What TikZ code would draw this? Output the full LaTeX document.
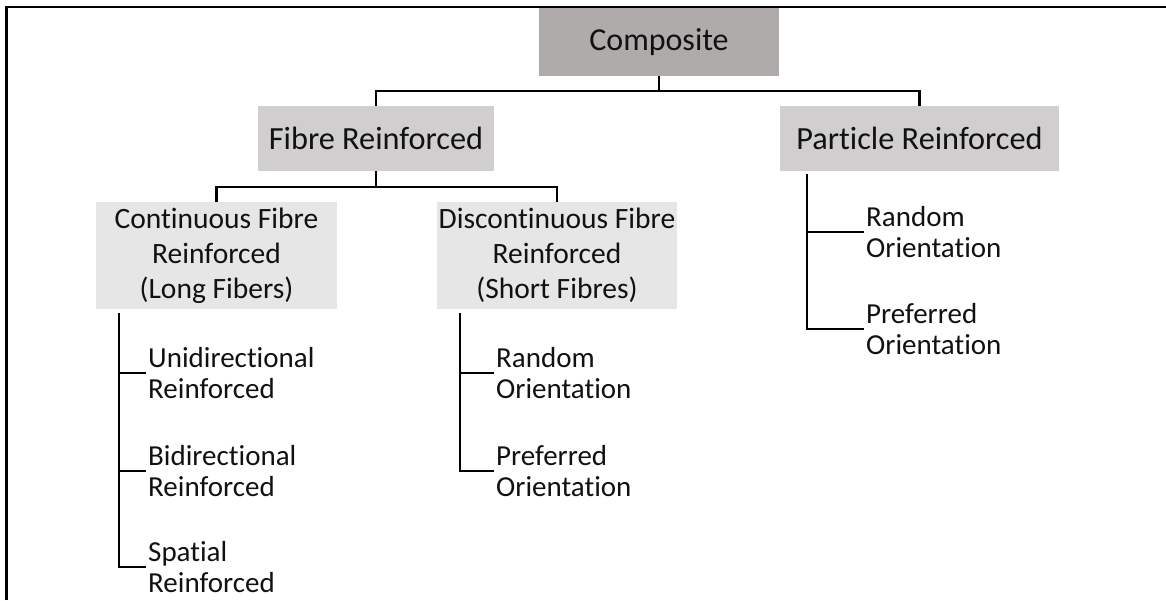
\documentclass[tikz,border=0pt]{standalone}
\usepackage{fontspec}
\setmainfont{Carlito}[Ligatures={NoCommon}]
\usetikzlibrary{calc}
\definecolor{boxdark}{HTML}{AFABAB}
\definecolor{boxmid}{HTML}{D0CECE}
\definecolor{boxlight}{HTML}{E7E6E6}
\definecolor{ink}{HTML}{111111}
\begin{document}
\begin{tikzpicture}[x=1pt,y=-1pt,
  box/.style={inner sep=0pt, align=center, text=ink},
  topbox/.style={box, fill=boxdark, minimum width=240pt, minimum height=68pt,
    font=\fontsize{32}{37}\selectfont},
  midbox/.style={box, fill=boxmid, minimum height=65pt,
    font=\fontsize{32.3}{37}\selectfont},
  lowbox/.style={box, fill=boxlight, minimum height=107pt,
    font=\fontsize{29.5}{35}\selectfont},
  leaf/.style={anchor=west, inner xsep=2pt, inner ysep=0pt, align=left,
    text=ink, font=\fontsize{29}{31}\selectfont},
  link/.style={draw=black, line width=2.4pt},
  frame/.style={draw=black, line width=2.4pt}]
\useasboundingbox (0,0) rectangle (1166,600);

% outer frame (left and top edges)
\coordinate (fbl) at (6.3,600);
\coordinate (ftl) at (6.3,7);
\coordinate (ftr) at (1166,7);
\draw[frame] (fbl) -- (ftl) -- (ftr);

% category boxes
\node[topbox] (comp) at (659,42) {Composite};
\node[midbox, minimum width=236pt] (fibre) at (376,138.5) {Fibre Reinforced};
\node[midbox, minimum width=279pt] (part) at (919.5,138.5) {Particle Reinforced};
\node[lowbox, minimum width=241pt] (cont) at (216.5,255.5)
  {Continuous Fibre\\Reinforced\\(Long Fibers)};
\node[lowbox, minimum width=240pt] (disc) at (557,255.5)
  {Discontinuous Fibre\\Reinforced\\(Short Fibres)};

% first level connectors
\coordinate (hub) at ($(comp.south)+(0,14.5)$);
\draw[link] (comp.south) -- (hub);
\draw[link] (fibre.north) |- (hub) -| (part.north);

% fibre connectors
\coordinate (fhub) at ($(fibre.south)+(0,16)$);
\draw[link] (fibre.south) -- (fhub);
\draw[link] (cont.north) |- (fhub) -| (disc.north);

% leaves: continuous fibres
\node[leaf] (uni) at (146,373) {Unidirectional\\Reinforced};
\node[leaf] (bid) at (146,471) {Bidirectional\\Reinforced};
\node[leaf] (spa) at (146,567) {Spatial\\Reinforced};
\coordinate (ctop) at ($(cont.south west)+(23,4)$);
\draw[link] (ctop) |- (spa.west);
\draw[link] (ctop |- uni.west) -- (uni.west);
\draw[link] (ctop |- bid.west) -- (bid.west);

% leaves: discontinuous fibres
\node[leaf] (drand) at (494,373) {Random\\Orientation};
\node[leaf] (dpref) at (494,471) {Preferred\\Orientation};
\coordinate (dtop) at ($(disc.south west)+(23,4)$);
\draw[link] (dtop) |- (dpref.west);
\draw[link] (dtop |- drand.west) -- (drand.west);

% leaves: particles
\node[leaf] (prand) at (864,232) {Random\\Orientation};
\node[leaf] (ppref) at (864,329) {Preferred\\Orientation};
\coordinate (ptop) at ($(part.south west)+(27,3)$);
\draw[link] (ptop) |- (ppref.west);
\draw[link] (ptop |- prand.west) -- (prand.west);
\end{tikzpicture}
\end{document}
